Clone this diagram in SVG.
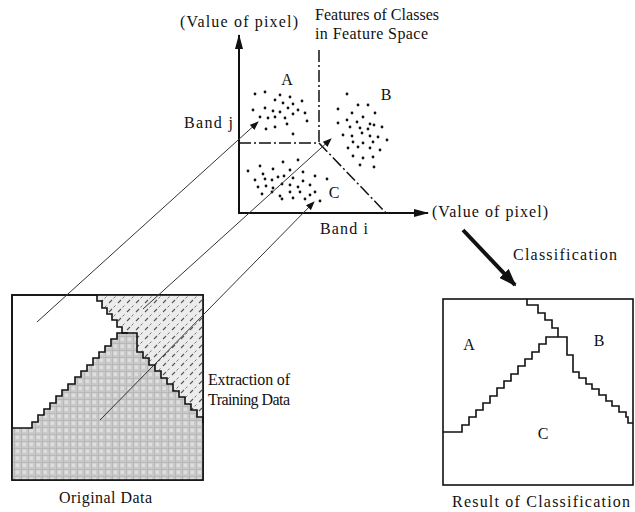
<svg xmlns="http://www.w3.org/2000/svg" width="635" height="512" viewBox="0 0 635 512">
<style>
text{font-family:"Liberation Serif","Times New Roman",serif;font-size:16px;fill:#111}
.lbl{text-anchor:middle}
.box{fill:#fff;stroke:#111;stroke-width:1.6}
.stair{fill:none;stroke:#111;stroke-width:1.6;stroke-linejoin:miter}
.axis{stroke:#111;stroke-width:2;fill:none}
.dd{stroke:#111;stroke-width:1.5;fill:none;stroke-dasharray:12 3 2 3}
.thin{stroke:#333;stroke-width:1;fill:none;marker-end:url(#ah)}
.dot{fill:#111}
</style>
<defs>
<marker id="ah" markerUnits="userSpaceOnUse" markerWidth="9" markerHeight="7" refX="8" refY="3.5" orient="auto"><path d="M0,0 L9,3.5 L0,7 z" fill="#111"/></marker>
<marker id="axh" markerUnits="userSpaceOnUse" markerWidth="15" markerHeight="8" refX="14" refY="4" orient="auto"><path d="M0,0 L15,4 L0,8 z" fill="#111"/></marker>
<marker id="bigh" markerUnits="userSpaceOnUse" markerWidth="18" markerHeight="13" refX="16" refY="6.5" orient="auto"><path d="M0,0 L18,6.5 L0,13 z" fill="#111"/></marker>
<pattern id="hatch" patternUnits="userSpaceOnUse" width="9" height="9">
<rect width="9" height="9" fill="#ececec"/>
<path d="M1,6 L4,3" stroke="#555" stroke-width="1.1"/>
<path d="M5.5,1.5 L7.5,-0.5 M5.5,10.5 L7.5,8.5" stroke="#777" stroke-width="1"/>
</pattern>
<pattern id="grayp" patternUnits="userSpaceOnUse" width="7" height="7">
<rect width="7" height="7" fill="#c9c9c9"/>
<rect x="1.5" y="1.5" width="3.5" height="3.5" fill="#dedede"/>
<path d="M0,0 H7 M0,0 V7" stroke="#a9a9a9" stroke-width="1"/>
</pattern>
</defs>

<g id="original-data">
<rect class="box" x="12" y="295" width="191" height="185"/>
<path d="M97,295 H203 V423 H197 V417 H191 V410 H185 V404 H179 V397 H173 V391 H167 V384 H161 V378 H155 V371 H149 V365 H143 V358 H137 V333 H128 V333 H122 V327 H117 V320 H112 V314 H107 V308 H102 V301 H97 Z" fill="url(#hatch)"/>
<path d="M12,480 V428 H32 V422 H38 V415 H44 V409 H50 V403 H56 V396 H62 V390 H68 V384 H75 V377 H81 V371 H87 V365 H93 V358 H99 V352 H105 V346 H111 V339 H117 V333 H137 V352 H143 V358 H149 V365 H155 V371 H161 V378 H167 V384 H173 V391 H179 V397 H185 V404 H191 V410 H197 V417 H203 V480 Z" fill="url(#grayp)"/>
<path class="stair" d="M12,428 H32 V422 H38 V415 H44 V409 H50 V403 H56 V396 H62 V390 H68 V384 H75 V377 H81 V371 H87 V365 H93 V358 H99 V352 H105 V346 H111 V339 H117 V333 H137 V352 H143 V358 H149 V365 H155 V371 H161 V378 H167 V384 H173 V391 H179 V397 H185 V404 H191 V410 H197 V417 H203 V423"/>
<path class="stair" d="M97,295 V301 H102 V308 H107 V314 H112 V320 H117 V327 H122 V333 H128"/>
<rect x="12" y="295" width="191" height="185" fill="none" stroke="#111" stroke-width="1.6"/>
<text x="59" y="503" textLength="93">Original Data</text>
</g>

<g id="extraction-label">
<text x="208" y="385" textLength="82">Extraction of</text>
<text x="208" y="405" textLength="82">Training Data</text>
</g>

<g id="feature-space">
<line class="axis" x1="239" y1="213" x2="239" y2="35" marker-end="url(#axh)"/>
<line class="axis" x1="238" y1="213" x2="428" y2="213" marker-end="url(#axh)"/>
<line class="dd" x1="319" y1="50" x2="319" y2="143"/>
<line class="dd" x1="239" y1="143" x2="319" y2="143"/>
<line class="dd" x1="319" y1="143" x2="386" y2="213"/>
<text x="180" y="27" textLength="118">(Value of pixel)</text>
<text x="315" y="20" textLength="124">Features of Classes</text>
<text x="315" y="39" textLength="113">in Feature Space</text>
<text x="184" y="128" textLength="49">Band j</text>
<text x="320" y="234" textLength="48">Band i</text>
<text x="432" y="217" textLength="116">(Value of pixel)</text>
</g>

<g id="class-A">
<text class="lbl" x="287" y="85">A</text>
<g class="dot">
<circle cx="255" cy="94" r="1.4"/><circle cx="265" cy="92" r="1.4"/><circle cx="280" cy="95" r="1.4"/><circle cx="290" cy="97" r="1.4"/><circle cx="302" cy="101" r="1.4"/><circle cx="275" cy="100" r="1.4"/><circle cx="283" cy="103" r="1.4"/><circle cx="293" cy="104" r="1.4"/><circle cx="253" cy="110" r="1.4"/><circle cx="265" cy="108" r="1.4"/><circle cx="273" cy="111" r="1.4"/><circle cx="280" cy="112" r="1.4"/><circle cx="288" cy="108" r="1.4"/><circle cx="298" cy="110" r="1.4"/><circle cx="260" cy="117" r="1.4"/><circle cx="268" cy="118" r="1.4"/><circle cx="275" cy="117" r="1.4"/><circle cx="285" cy="118" r="1.4"/><circle cx="293" cy="114" r="1.4"/><circle cx="305" cy="113" r="1.4"/><circle cx="307" cy="121" r="1.4"/><circle cx="287" cy="124" r="1.4"/><circle cx="275" cy="127" r="1.4"/><circle cx="266" cy="129" r="1.4"/><circle cx="293" cy="134" r="1.4"/>
</g>
</g>

<g id="class-B">
<text class="lbl" x="386" y="100">B</text>
<g class="dot">
<circle cx="347" cy="94" r="1.4"/><circle cx="358" cy="105" r="1.4"/><circle cx="368" cy="105" r="1.4"/><circle cx="338" cy="109" r="1.4"/><circle cx="352" cy="113" r="1.4"/><circle cx="363" cy="117" r="1.4"/><circle cx="375" cy="113" r="1.4"/><circle cx="347" cy="120" r="1.4"/><circle cx="357" cy="122" r="1.4"/><circle cx="370" cy="124" r="1.4"/><circle cx="382" cy="127" r="1.4"/><circle cx="338" cy="123" r="1.4"/><circle cx="350" cy="127" r="1.4"/><circle cx="360" cy="128" r="1.4"/><circle cx="368" cy="129" r="1.4"/><circle cx="374" cy="125" r="1.4"/><circle cx="343" cy="135" r="1.4"/><circle cx="352" cy="136" r="1.4"/><circle cx="362" cy="133" r="1.4"/><circle cx="370" cy="136" r="1.4"/><circle cx="378" cy="137" r="1.4"/><circle cx="387" cy="140" r="1.4"/><circle cx="353" cy="142" r="1.4"/><circle cx="363" cy="143" r="1.4"/><circle cx="373" cy="142" r="1.4"/><circle cx="348" cy="148" r="1.4"/><circle cx="358" cy="147" r="1.4"/><circle cx="370" cy="148" r="1.4"/><circle cx="380" cy="150" r="1.4"/><circle cx="353" cy="156" r="1.4"/><circle cx="363" cy="158" r="1.4"/><circle cx="373" cy="157" r="1.4"/><circle cx="360" cy="165" r="1.4"/><circle cx="374" cy="167" r="1.4"/>
</g>
</g>

<g id="class-C">
<text class="lbl" x="334" y="198">C</text>
<g class="dot">
<circle cx="248" cy="171" r="1.4"/><circle cx="260" cy="166" r="1.4"/><circle cx="273" cy="169" r="1.4"/><circle cx="283" cy="162" r="1.4"/><circle cx="298" cy="160" r="1.4"/><circle cx="290" cy="170" r="1.4"/><circle cx="303" cy="172" r="1.4"/><circle cx="255" cy="180" r="1.4"/><circle cx="263" cy="174" r="1.4"/><circle cx="265" cy="179" r="1.4"/><circle cx="272" cy="180" r="1.4"/><circle cx="278" cy="177" r="1.4"/><circle cx="284" cy="176" r="1.4"/><circle cx="293" cy="178" r="1.4"/><circle cx="303" cy="181" r="1.4"/><circle cx="315" cy="176" r="1.4"/><circle cx="327" cy="179" r="1.4"/><circle cx="258" cy="187" r="1.4"/><circle cx="266" cy="186" r="1.4"/><circle cx="273" cy="188" r="1.4"/><circle cx="282" cy="184" r="1.4"/><circle cx="290" cy="185" r="1.4"/><circle cx="298" cy="187" r="1.4"/><circle cx="310" cy="185" r="1.4"/><circle cx="262" cy="194" r="1.4"/><circle cx="272" cy="192" r="1.4"/><circle cx="280" cy="196" r="1.4"/><circle cx="290" cy="192" r="1.4"/><circle cx="300" cy="192" r="1.4"/><circle cx="315" cy="192" r="1.4"/><circle cx="282" cy="199" r="1.4"/><circle cx="293" cy="198" r="1.4"/><circle cx="305" cy="199" r="1.4"/><circle cx="320" cy="201" r="1.4"/><circle cx="310" cy="195" r="1.4"/>
</g>
</g>

<g id="classification-label">
<text x="513" y="260" textLength="104">Classification</text>
</g>

<g id="result">
<rect class="box" x="443" y="299" width="190" height="186"/>
<path class="stair" d="M527,299 V305 H538 V313 H545 V320 H552 V328 H558 V337"/>
<path class="stair" d="M443,432 H462 V425 H469 V417 H476 V410 H483 V403 H490 V396 H497 V388 H504 V381 H511 V374 H518 V366 H525 V359 H532 V352 H539 V344 H546 V337 H567 V355 H573 V372 H579 V378 H586 V384 H592 V389 H599 V395 H606 V401 H612 V406 H619 V412 H626 V417 H628 V423 H633"/>
<text class="lbl" x="469" y="350">A</text>
<text class="lbl" x="599" y="346">B</text>
<text class="lbl" x="543" y="439">C</text>
<text x="452" y="507" textLength="178">Result of Classification</text>
</g>

<g id="connectors">
<line class="thin" x1="37" y1="322" x2="258" y2="122"/>
<line class="thin" x1="143" y1="309" x2="331" y2="139"/>
<line class="thin" x1="100" y1="420" x2="314" y2="202"/>
<line x1="463" y1="230" x2="515" y2="285" stroke="#111" stroke-width="4" marker-end="url(#bigh)"/>
</g>
</svg>
